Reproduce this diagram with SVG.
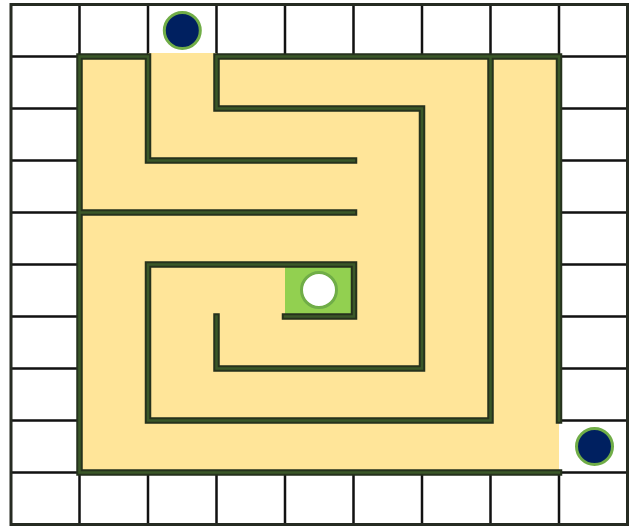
<svg xmlns="http://www.w3.org/2000/svg" width="637" height="528" viewBox="0 0 637 528">
  <style>
    .grid { stroke: #111; stroke-width: 2.5; fill: none; }
    .wallo { stroke: #25311c; stroke-width: 6.5; fill: none; stroke-linecap: square; stroke-linejoin: miter; }
    .walli { stroke: #3b5829; stroke-width: 2.5; fill: none; stroke-linecap: square; stroke-linejoin: miter; }
    .dot { fill: #002060; stroke: #70ad47; stroke-width: 3; }
  </style>
  <defs>
    <path id="walls" d="M148,56.5 H79.5 V472.5 H559 M216.5,56.5 H559 V420.5 M148,56.5 V160.5 H354 M79.5,212.5 H354 M216.5,56.5 V108.5 H422 V368.5 H216.5 V316.5 M490.5,56.5 V420.5 H148 V264.5 H354 V316.5 H285"/>
  </defs>
  <rect x="0" y="0" width="637" height="528" fill="#ffffff"/>
  <g id="frame">
    <path class="grid" d="M11,56.5 H79.5 M11,108.5 H79.5 M11,160.5 H79.5 M11,212.5 H79.5 M11,264.5 H79.5 M11,316.5 H79.5 M11,368.5 H79.5 M11,420.5 H79.5 M11,472.5 H79.5
      M559,56.5 H627.5 M559,108.5 H627.5 M559,160.5 H627.5 M559,212.5 H627.5 M559,264.5 H627.5 M559,316.5 H627.5 M559,368.5 H627.5 M559,420.5 H627.5 M559,472.5 H627.5
      M79.5,4.5 V56.5 M148,4.5 V56.5 M216.5,4.5 V56.5 M285,4.5 V56.5 M353.5,4.5 V56.5 M422,4.5 V56.5 M490.5,4.5 V56.5 M559,4.5 V56.5
      M79.5,472.5 V524.5 M148,472.5 V524.5 M216.5,472.5 V524.5 M285,472.5 V524.5 M353.5,472.5 V524.5 M422,472.5 V524.5 M490.5,472.5 V524.5 M559,472.5 V524.5"/>
    <rect x="11" y="4.5" width="616.5" height="520" fill="none" stroke="#262b22" stroke-width="3"/>
  </g>
  <g id="maze">
    <rect x="79.5" y="56.5" width="479.5" height="416" fill="#ffe599"/>
    <rect x="148" y="53" width="68.5" height="6" fill="#ffe599"/>
    <rect id="goal-cell" x="285" y="264.5" width="69" height="52" fill="#92d050"/>
    <use href="#walls" class="wallo"/>
    <use href="#walls" class="walli"/>
  </g>
  <g id="goal">
    <circle cx="319" cy="290" r="17.5" fill="#ffffff" stroke="#70ad47" stroke-width="3"/>
  </g>
  <g id="entry-top">
    <circle class="dot" cx="182.3" cy="30.5" r="18"/>
  </g>
  <g id="entry-right">
    <circle class="dot" cx="594.5" cy="446.5" r="18"/>
  </g>
</svg>
